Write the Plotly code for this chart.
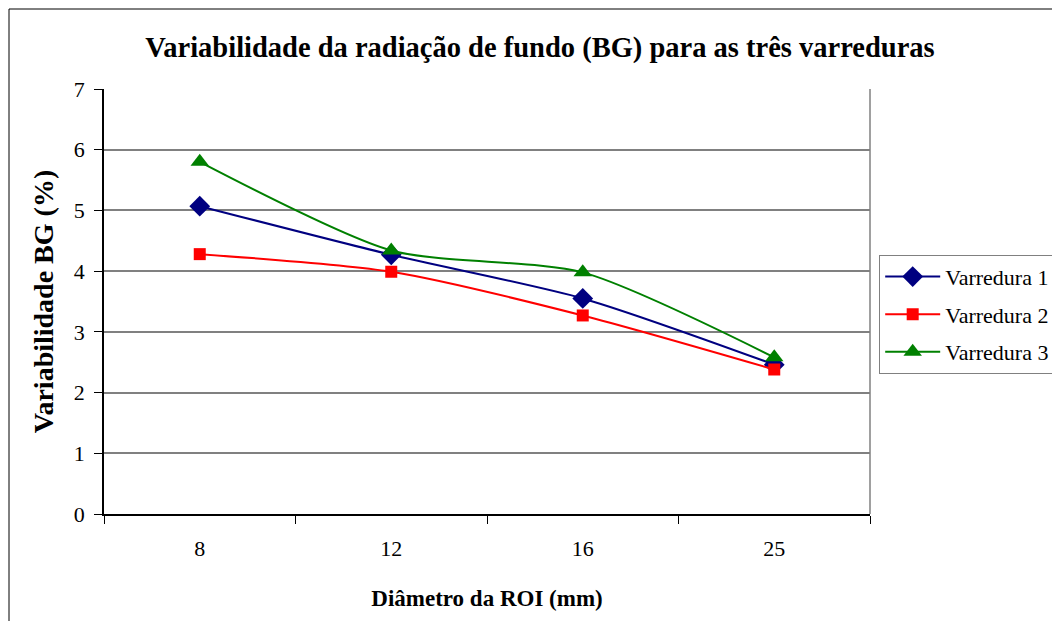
import plotly.graph_objects as go

categories = ["8", "12", "16", "25"]
varredura1 = [5.07, 4.27, 3.55, 2.46]
varredura2 = [4.28, 3.99, 3.27, 2.38]
varredura3 = [5.80, 4.34, 3.98, 2.58]
y_ticks = [0, 1, 2, 3, 4, 5, 6, 7]

FONT = "Liberation Serif"

series = [
    ("Varredura 1", varredura1, "#000080", "diamond", 16),
    ("Varredura 2", varredura2, "#FF0000", "square", 12),
    ("Varredura 3", varredura3, "#008000", "triangle-up", 16),
]

fig = go.Figure()
for i, (name, vals, col, sym, sz) in enumerate(series):
    fig.add_trace(go.Scatter(
        x=categories, y=vals, name=name, mode="lines+markers",
        line=dict(color=col, width=2, shape="spline", smoothing=0.7),
        marker=dict(symbol=sym, size=sz, color=col),
        legendgroup=f"g{i}",
    ))

# page body adds an 8px offset; compensate in margins
OFF = 8
fig.update_layout(
    width=1060, height=621,
    paper_bgcolor="white", plot_bgcolor="white",
    margin=dict(l=104 - OFF, r=190 + OFF, t=89 - OFF, b=107 + OFF),
    font=dict(family=FONT, color="black"),
    title=dict(
        text="<b>Variabilidade da radiação de fundo (BG) para as três varreduras</b>",
        x=(540 - OFF) / 1060, xref="container", xanchor="center",
        y=1 - (47 - OFF) / 621, yref="container", yanchor="middle",
        font=dict(size=28.5, family=FONT),
    ),
    showlegend=True,
    legend=dict(
        x=1.012, xanchor="left", y=0.61, yanchor="top",
        bordercolor="#808080", borderwidth=1,
        font=dict(size=22, family=FONT),
        tracegroupgap=6, itemwidth=55,
        bgcolor="white",
    ),
)

fig.update_xaxes(
    type="category", categoryorder="array", categoryarray=categories,
    tickson="boundaries", ticks="outside", ticklen=8, tickcolor="black",
    ticklabelstandoff=14,
    showline=True, linecolor="black", linewidth=1.5, mirror=False,
    showgrid=False, tickfont=dict(size=22, family=FONT),
    title=dict(text="<b>Diâmetro da ROI (mm)</b>", font=dict(size=23, family=FONT), standoff=30),
    range=[-0.5, 3.5],
)
fig.update_yaxes(
    range=[0, 7], tickvals=y_ticks, ticks="outside", ticklen=8, tickcolor="black",
    ticklabelstandoff=5,
    showline=True, linecolor="black", linewidth=1.5,
    showgrid=True, gridcolor="#808080", gridwidth=1.5,
    tickfont=dict(size=22, family=FONT), zeroline=False,
    title=dict(text="<b>Variabilidade BG (%)</b>", font=dict(size=28, family=FONT), standoff=12),
)

# right border of plot area
fig.add_shape(type="line", xref="paper", yref="paper", x0=1, x1=1, y0=0, y1=1,
              line=dict(color="#808080", width=1.5))
# outer chart border
fig.add_shape(type="rect", xref="paper", yref="paper",
              x0=(9 - 104) / 766, x1=(1058 - 104) / 766,
              y0=(514 - 640) / 425, y1=(514 - 9) / 425,
              line=dict(color="black", width=1))

fig.write_html("out.html")
